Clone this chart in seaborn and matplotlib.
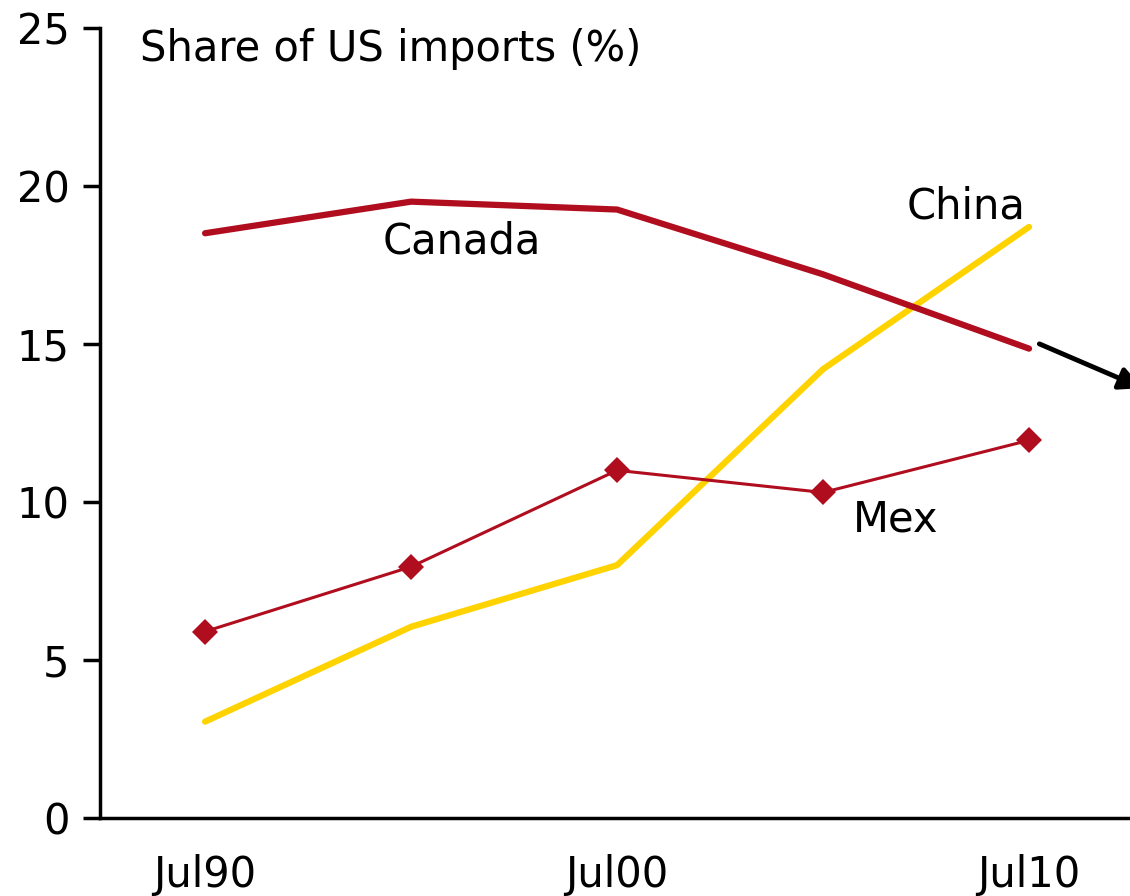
import matplotlib
matplotlib.use("Agg")
import matplotlib.pyplot as plt
import seaborn as sns
import pandas as pd

years = [1990, 1995, 2000, 2005, 2010]
canada = [18.5, 19.5, 19.25, 17.2, 14.85]
china = [3.05, 6.05, 8.0, 14.2, 18.7]
mexico = [5.9, 7.95, 11.0, 10.3, 11.95]
tick_years = [1990, 2000, 2010]
tick_labels = ["Jul90", "Jul00", "Jul10"]

sns.set_theme(style="white")
plt.rcParams["font.family"] = ["DejaVu Sans"]

red = "#B00D1E"
yellow = "#FFD300"

fig = plt.figure(figsize=(11.3, 8.96), dpi=100)
ax = fig.add_axes([0.0885, 0.087, 0.9115, 0.882])

df_ca = pd.DataFrame({"year": years, "share": canada})
df_cn = pd.DataFrame({"year": years, "share": china})
df_mx = pd.DataFrame({"year": years, "share": mexico})

sns.lineplot(data=df_cn, x="year", y="share", color=yellow, linewidth=4.5, ax=ax)
sns.lineplot(data=df_ca, x="year", y="share", color=red, linewidth=4.5, ax=ax)
sns.lineplot(data=df_mx, x="year", y="share", color=red, linewidth=2.2,
             marker="D", markersize=13, markeredgewidth=0, ax=ax)

# Trend arrow continuing Canada's decline
ax.annotate("", xy=(2012.75, 13.6), xytext=(2010.25, 15.0),
            arrowprops=dict(arrowstyle="-|>", color="black", lw=3.5,
                            mutation_scale=34, shrinkA=0, shrinkB=0,
                            capstyle="round"),
            annotation_clip=False)

ax.set_xlim(1987.45, 2012.45)
ax.set_ylim(0, 25)
ax.set_yticks([0, 5, 10, 15, 20, 25])
ax.set_xticks(tick_years)
ax.set_xticklabels(tick_labels)
ax.set_xlabel("")
ax.set_ylabel("")

for side in ["top", "right"]:
    ax.spines[side].set_visible(False)
for side in ["left", "bottom"]:
    ax.spines[side].set_color("black")
    ax.spines[side].set_linewidth(2.5)

ax.tick_params(axis="y", which="major", direction="out", length=12, width=2.5,
               color="black", labelsize=30, pad=10, left=True)
ax.tick_params(axis="x", which="major", length=0, labelsize=30, pad=26)
for lbl in ax.get_xticklabels() + ax.get_yticklabels():
    lbl.set_color("black")

ax.text(1988.42, 24.33, "Share of US imports (%)", fontsize=30, color="black",
        va="center", ha="left")
ax.text(1994.3, 18.23, "Canada", fontsize=30, color="black", va="center", ha="left")
ax.text(2007.04, 19.34, "China", fontsize=30, color="black", va="center", ha="left")
ax.text(2005.73, 9.43, "Mex", fontsize=30, color="black", va="center", ha="left")

fig.savefig("out.png", dpi=100)
